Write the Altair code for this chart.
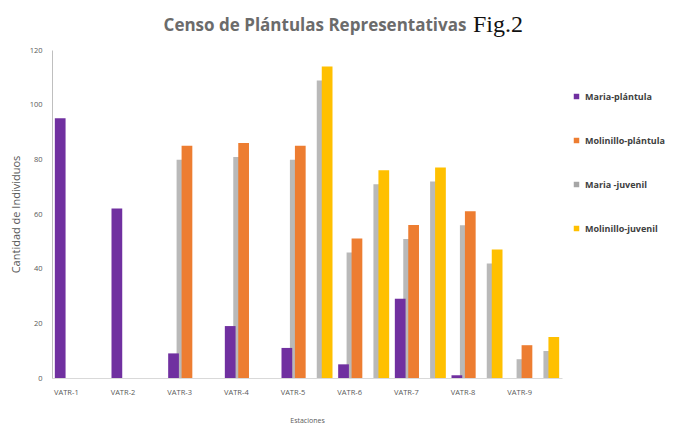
import altair as alt
import pandas as pd

estaciones = ["VATR-1", "VATR-2", "VATR-3", "VATR-4", "VATR-5", "VATR-6", "VATR-7", "VATR-8", "VATR-9"]
series = ["Maria-plántula", "Molinillo-plántula", "Maria -juvenil", "Molinillo-juvenil"]
colores = ["#7030a0", "#ed7d31", "#a6a6a6", "#ffc000"]

maria_plantula = [95, 62, 9, 19, 11, 5, 29, 1, 0]
molinillo_plantula = [0, 0, 85, 86, 85, 51, 56, 61, 12]
maria_juvenil = [0, 0, 0, 0, 0, 0, 0, 0, 0]
molinillo_juvenil = [0, 0, 0, 0, 114, 76, 77, 47, 15]

valores = [maria_plantula, molinillo_plantula, maria_juvenil, molinillo_juvenil]
rows = []
for s, vals in zip(series, valores):
    for e, v in zip(estaciones, vals):
        rows.append({"Estación": e, "Serie": s, "Valor": v})
df = pd.DataFrame(rows)

W, H = 510, 328

x_enc = alt.X("Estación:N", sort=estaciones,
              scale=alt.Scale(paddingInner=0.1, paddingOuter=0.05),
              axis=alt.Axis(title="Estaciones", labelAngle=0, labelFontSize=7.5,
                            labelColor="#595959", labelPadding=10, labelOffset=-14, ticks=False,
                            domainColor="#d9d9d9", titleFontSize=7, titleColor="#595959",
                            titleFontWeight="normal", titlePadding=21, labelFont="Open Sans",
                            titleFont="Open Sans"))
y_axis = alt.Axis(title="Cantidad de Individuos", values=list(range(0, 121, 20)),
                  labelFontSize=7.5, labelColor="#595959", ticks=False,
                  labelPadding=10, gridColor="#d4d4d4", gridWidth=1.6,
                  domainColor="#bfbfbf", titleFontSize=11, titleColor="#595959",
                  titleFontWeight="normal", titlePadding=8, labelFont="Open Sans",
                  titleFont="Open Sans")

base = alt.Chart(df)

# decorative drop shadow (same data, shifted scales)
shadow = base.transform_filter(
    alt.FieldOneOfPredicate(field="Serie", oneOf=["Molinillo-plántula", "Molinillo-juvenil"])
).mark_bar(color="#808080", opacity=0.55, clip=True).encode(
    x=x_enc,
    xOffset=alt.XOffset("Serie:N", sort=series,
                        scale=alt.Scale(domain=series, paddingInner=0.2, range=[-5, 46])),
    y=alt.Y("Valor:Q", scale=alt.Scale(domain=[0, 120], range=[H + 14, 14]), axis=None),
)

bars = base.mark_bar().encode(
    x=x_enc,
    xOffset=alt.XOffset("Serie:N", sort=series,
                        scale=alt.Scale(domain=series, paddingInner=0.2)),
    y=alt.Y("Valor:Q", scale=alt.Scale(domain=[0, 120]), axis=y_axis),
    color=alt.Color("Serie:N", sort=series,
                    scale=alt.Scale(domain=series, range=colores),
                    legend=alt.Legend(title=None, orient="none", legendX=520, legendY=42,
                                      symbolType="square", symbolSize=30, labelFontSize=9,
                                      labelFontWeight="bold", labelColor="#404040",
                                      rowPadding=34, labelFont="Open Sans"))
)

titulo = alt.Chart(pd.DataFrame({"t": ["Censo de Plántulas Representativas"]})).mark_text(
    font="Open Sans", fontSize=17, fontWeight="bold", color="#6b6b6b",
    align="center", baseline="alphabetic"
).encode(text="t:N", x=alt.value(263), y=alt.value(-19))

fig = alt.Chart(pd.DataFrame({"t": ["Fig.2"]})).mark_text(
    font="Liberation Serif", fontSize=24, color="#111111", align="left", baseline="alphabetic"
).encode(text="t:N", x=alt.value(421), y=alt.value(-18))

chart = alt.layer(shadow, bars, titulo, fig).resolve_scale(
    y="independent", xOffset="independent"
).properties(
    width=W, height=H,
    padding={"left": 2, "top": 5, "right": 5, "bottom": 5},
).configure_view(stroke=None)

chart.save("out.html", embed_options={"renderer": "svg", "actions": False})
